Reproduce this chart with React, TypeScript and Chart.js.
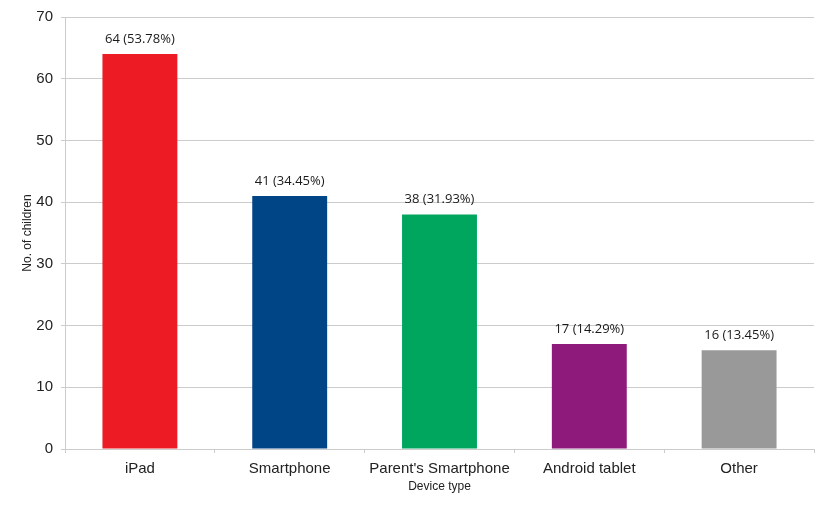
import React, { useEffect, useRef } from "react";
import { Chart, registerables } from "chart.js";

Chart.register(...registerables);

const categories = ["iPad", "Smartphone", "Parent's Smartphone", "Android tablet", "Other"];
const counts = [64, 41, 38, 17, 16];
const percents = ["53.78%", "34.45%", "31.93%", "14.29%", "13.45%"];
const barColors = ["#ED1C24", "#004586", "#00A65D", "#8E1A7B", "#999999"];
const yTicks = [0, 10, 20, 30, 40, 50, 60, 70];

const labelPlugin = {
  id: "barLabels",
  afterDatasetsDraw(chart: any) {
    const ctx = chart.ctx;
    const meta = chart.getDatasetMeta(0);
    ctx.save();
    ctx.font = "13px 'Open Sans'";
    ctx.fillStyle = "#1a1a1a";
    ctx.textAlign = "center";
    ctx.textBaseline = "middle";
    meta.data.forEach((el: any, i: number) => {
      ctx.fillText(`${counts[i]} (${percents[i]})`, el.x, el.y - 15);
    });
    ctx.restore();
  },
};

export default function App() {
  const ref = useRef<HTMLCanvasElement>(null);
  useEffect(() => {
    if (!ref.current) return;
    const chart = new Chart(ref.current, {
      type: "bar",
      data: {
        labels: categories,
        datasets: [
          {
            data: counts,
            backgroundColor: barColors,
            borderWidth: 0,
            barPercentage: 0.5,
            categoryPercentage: 1,
          },
        ],
      },
      options: {
        animation: false,
        responsive: false,
        maintainAspectRatio: false,
        layout: { padding: { left: 0, right: 16, top: 13, bottom: 0 } },
        plugins: { legend: { display: false }, tooltip: { enabled: false } },
        scales: {
          x: {
            offset: true,
            grid: {
              offset: true,
              drawOnChartArea: false,
              drawTicks: true,
              tickLength: 4,
              color: "#CCCCCC",
            },
            border: { color: "#CCCCCC" },
            ticks: { color: "#222222", font: { family: "'Liberation Sans'", size: 15 }, padding: 7, maxRotation: 0 },
            title: {
              display: true,
              text: "Device type",
              color: "#222222",
              font: { family: "'Liberation Sans'", size: 12 },
              padding: { top: 0, bottom: 18 },
            },
            afterFit(scale: any) {
              scale.height = 63;
            },
          },
          y: {
            min: 0,
            max: 70,
            afterBuildTicks(scale: any) {
              scale.ticks = yTicks.map((v) => ({ value: v }));
            },
            grid: { color: "#CCCCCC", tickLength: 4, drawTicks: true },
            border: { color: "#CCCCCC" },
            ticks: { color: "#222222", font: { family: "'Liberation Sans'", size: 15 }, padding: 8 },
            title: {
              display: true,
              text: "No. of children",
              color: "#222222",
              font: { family: "'Liberation Sans'", size: 12 },
              padding: { top: 20, bottom: 0 },
            },
            afterFit(scale: any) {
              scale.width = 65;
            },
          },
        },
      },
      plugins: [labelPlugin],
    });
    return () => chart.destroy();
  }, []);
  return (
    <div style={{ position: "fixed", left: 0, top: 0, width: 830, height: 512, background: "#fff" }}>
      <canvas ref={ref} width={830} height={512} style={{ width: 830, height: 512 }} />
    </div>
  );
}
